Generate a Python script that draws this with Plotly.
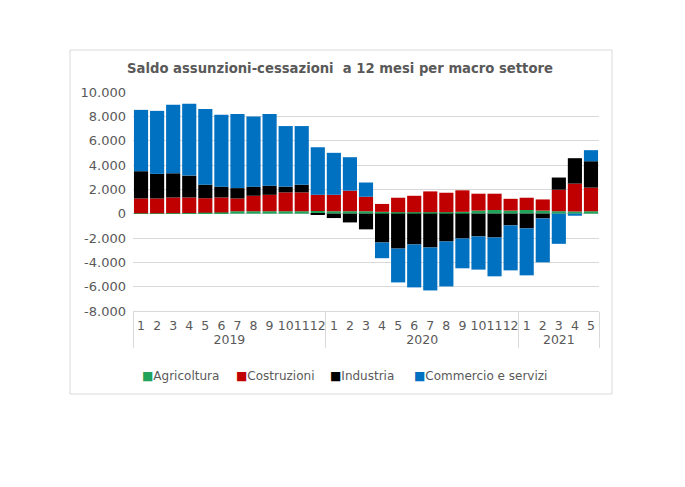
import plotly.graph_objects as go

years = ["2019"] * 12 + ["2020"] * 12 + ["2021"] * 5
months = [str(m) for m in range(1, 13)] * 2 + [str(m) for m in range(1, 6)]

agricoltura = [30, 30, 40, 50, 80, 100, 200, 200, 200, 200, 200, 220,
               200, 200, 200, 150, 120, 120, 120, 120, 150, 250, 300, 250,
               300, 250, 200, 180, 200]
costruzioni = [1220, 1220, 1290, 1280, 1190, 1230, 1050, 1270, 1350, 1550, 1550, 1330,
               1350, 1690, 1190, 650, 1190, 1350, 1710, 1600, 1770, 1390, 1340, 970,
               1010, 920, 1770, 2290, 1940]
industria = [2240, 2020, 1990, 1800, 1110, 890, 850, 750, 750, 470, 630, -100,
             -360, -720, -1290, -2370, -2870, -2530, -2780, -2290, -2040, -1870, -1960, -960,
             -1210, -390, 1000, 2090, 2170]
commercio = [5040, 5180, 5630, 5900, 6230, 5900, 6100, 5760, 5900, 4980, 4820, 3910,
             3450, 2750, 1170, -1290, -2780, -3530, -3530, -3690, -2450, -2730, -3190, -3700,
             -3860, -3610, -2480, -170, 910]

series_names = ["Agricoltura", "Costruzioni", "Industria", "Commercio e servizi"]
series_values = [agricoltura, costruzioni, industria, commercio]
colors = ["#21A35A", "#C00000", "#000000", "#0070C0"]

y_tickvals = [-8000, -6000, -4000, -2000, 0, 2000, 4000, 6000, 8000, 10000]
y_ticktext = ["-8.000", "-6.000", "-4.000", "-2.000", "0", "2.000", "4.000", "6.000", "8.000", "10.000"]

FONT = "DejaVu Sans"
GRAY = "#595959"

fig = go.Figure()
for name, vals, col in zip(series_names, series_values, colors):
    fig.add_trace(go.Bar(x=[years, months], y=vals, name=name, showlegend=False,
                         marker=dict(color=col, line=dict(width=0))))

W, H = 685, 487
L, R, T, B = 133, 86, 92, 176
pw = W - L - R
ph = H - T - B

def px_x(p):
    return (p - L) / pw

def px_y(p):
    return (H - B - p) / ph

# manual legend (square glyph + label), positioned like the reference
legend_x = [140, 234, 328, 412]
annotations = []
for name, col, lx in zip(series_names, colors, legend_x):
    annotations.append(dict(
        xref="paper", yref="paper", x=px_x(lx), y=px_y(376),
        xanchor="left", yanchor="middle", showarrow=False,
        text=f"<span style='color:{col}'>■</span>{name}",
        font=dict(family=FONT, size=12, color=GRAY)))

fig.update_layout(
    width=W, height=H,
    margin=dict(l=L, r=R, t=T, b=B, autoexpand=False),
    barmode="relative",
    bargap=0.12,
    paper_bgcolor="white",
    plot_bgcolor="white",
    font=dict(family=FONT, size=12, color=GRAY),
    title=dict(text="<b>Saldo assunzioni-cessazioni  a 12 mesi per macro settore</b>",
               x=340 / W, xanchor="center", y=1 - 68 / H, yanchor="middle",
               font=dict(family=FONT, size=13.2, color=GRAY)),
    showlegend=False,
    annotations=annotations,
    shapes=[dict(type="rect", xref="paper", yref="paper",
                 x0=px_x(70), x1=px_x(612), y0=px_y(394), y1=px_y(50),
                 line=dict(color="#D9D9D9", width=1), fillcolor="rgba(0,0,0,0)",
                 layer="below")],
)

fig.update_yaxes(range=[-8000, 10000], tickvals=y_tickvals, ticktext=y_ticktext,
                 showgrid=True, gridcolor="#D9D9D9", gridwidth=1,
                 zeroline=False, showline=False, ticks="", ticklabelstandoff=6,
                 tickfont=dict(family=FONT, size=13, color=GRAY))
fig.update_xaxes(type="multicategory", showline=True, linecolor="#D9D9D9",
                 showdividers=True, dividercolor="#D9D9D9", dividerwidth=1,
                 ticks="", tickangle=0, ticklabelstandoff=3,
                 tickfont=dict(family=FONT, size=12.5, color=GRAY),
                 showgrid=False)

fig.write_html("out.html", config={"displayModeBar": False},
               post_script="document.body.style.margin='0';")
